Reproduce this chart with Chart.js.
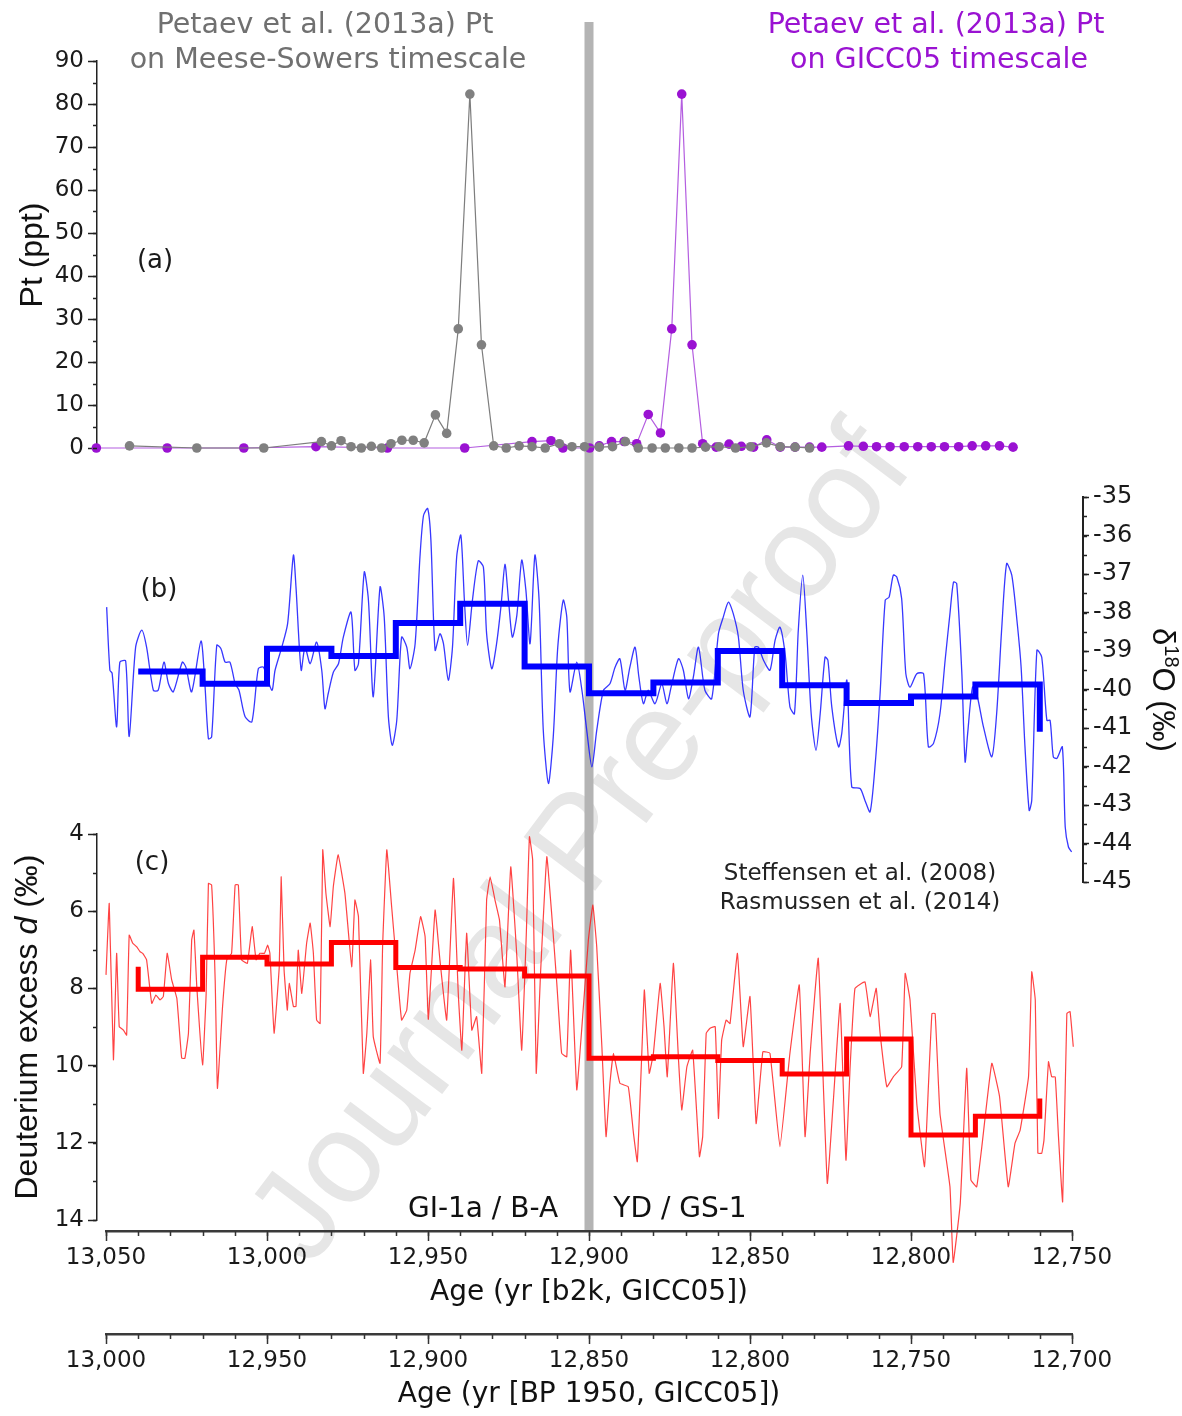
<!DOCTYPE html>
<html>
<head>
<meta charset="utf-8">
<script src="https://cdn.jsdelivr.net/npm/chart.js@4.4.0/dist/chart.umd.min.js"></script>
<style>
  html, body { margin: 0; padding: 0; background: #fff; }
  #wrap { position: relative; width: 1182px; height: 1416px; }
  #wrap canvas { position: absolute; left: 0; top: 0; }
</style>
</head>
<body>
<div id="wrap">
  <canvas id="cA" width="1182" height="1416"></canvas>
  <canvas id="cB" width="1182" height="1416"></canvas>
  <canvas id="cC" width="1182" height="1416"></canvas>
  <canvas id="cX" width="1182" height="1416"></canvas>
</div>
<script>
// (a) Pt, Petaev et al. (2013a) on the Meese-Sowers timescale  [age b2k, ppt]
const ptMsAge = [13042.7, 13021.8, 13001.0, 12983.1, 12980.0, 12977.0, 12973.9, 12970.7, 12967.6, 12964.4,
  12961.5, 12958.1, 12954.6, 12951.2, 12947.7, 12944.2, 12940.6, 12937.0, 12933.4, 12929.6,
  12925.7, 12921.7, 12917.7, 12913.6, 12909.2, 12905.3, 12901.4, 12896.8, 12892.7, 12888.7,
  12884.7, 12880.4, 12876.3, 12872.1, 12868.0, 12863.8, 12859.6, 12854.5, 12849.8, 12844.9,
  12840.6, 12836.0, 12831.5];
const ptMsVal = [0.5, 0, 0, 1.5, 0.5, 1.7, 0.3, 0, 0.4, 0,
  1.0, 1.8, 1.8, 1.2, 7.7, 3.4, 27.7, 82.3, 24.0, 0.5,
  0, 0.5, 0.3, 0, 1.0, 0.3, 0.3, 0.2, 0.3, 1.5,
  0, 0, 0, 0, 0, 0.2, 0.3, 0, 0.3, 1.2,
  0.3, 0.2, 0];

// (a) same Pt record on the GICC05 timescale
const ptGiccAge = [13053.0, 13031.0, 13007.2, 12984.8, 12962.6, 12938.6, 12917.7, 12911.8, 12908.1, 12899.8,
  12896.8, 12893.0, 12889.1, 12885.2, 12881.6, 12877.8, 12874.3, 12871.2, 12868.0, 12864.7,
  12860.5, 12856.5, 12852.7, 12848.9, 12844.8, 12840.6, 12836.0, 12831.5, 12827.7, 12819.4,
  12814.8, 12810.7, 12806.5, 12802.1, 12797.9, 12793.7, 12789.6, 12785.2, 12781.0, 12776.8,
  12772.5, 12768.3];
const ptGiccVal = [0, 0, 0, 0.3, 0, 0, 1.5, 1.7, 0, 0,
  0.5, 1.5, 1.5, 1.0, 7.8, 3.5, 27.7, 82.3, 24.0, 1.0,
  0.2, 0.9, 0.4, 0.2, 1.9, 0.2, 0.2, 0.2, 0.2, 0.5,
  0.4, 0.3, 0.3, 0.3, 0.3, 0.3, 0.3, 0.3, 0.5, 0.5,
  0.5, 0.2];

// (b) d18O, NGRIP (Steffensen et al. 2008; Rasmussen et al. 2014)
const d18oAge = [13049.8, 13048.8, 13048.1, 13046.7, 13045.7, 13043.9, 13042.8, 13040.8, 13038.9, 13037.4,
  13035.3, 13033.8, 13032.0, 13030.6, 13029.1, 13026.3, 13025.2, 13023.4, 13020.5, 13019.3,
  13018.2, 13017.2, 13015.6, 13014.3, 13013.0, 13011.5, 13009.9, 13008.7, 13006.8, 13004.7,
  13002.7, 13001.1, 12998.5, 12997.5, 12995.4, 12993.6, 12991.8, 12991.0, 12989.4, 12988.2,
  12986.6, 12984.6, 12983.0, 12982.0, 12981.0, 12979.4, 12977.8, 12976.3, 12973.9, 12972.7,
  12971.6, 12969.8, 12968.5, 12967.0, 12964.9, 12963.6, 12962.3, 12961.1, 12959.7, 12958.2,
  12956.6, 12955.6, 12954.0, 12952.5, 12951.4, 12950.1, 12949.1, 12947.8, 12946.3, 12945.2,
  12943.7, 12942.4, 12941.1, 12939.8, 12938.7, 12937.7, 12936.2, 12934.4, 12932.8, 12931.8,
  12930.2, 12928.7, 12927.3, 12926.1, 12925.0, 12923.8, 12922.4, 12920.9, 12919.6, 12918.3,
  12916.8, 12915.5, 12914.2, 12912.6, 12911.1, 12909.7, 12908.0, 12906.9, 12905.9, 12903.8,
  12902.2, 12900.7, 12899.1, 12897.6, 12895.5, 12893.5, 12891.9, 12890.4, 12888.8, 12887.3,
  12885.7, 12884.5, 12883.1, 12881.6, 12879.5, 12877.4, 12875.8, 12874.5, 12872.2, 12870.7,
  12869.1, 12867.6, 12866.0, 12864.0, 12861.9, 12859.8, 12858.3, 12856.7, 12855.2, 12853.6,
  12852.1, 12850.0, 12848.5, 12847.4, 12845.8, 12843.8, 12842.2, 12840.7, 12839.1, 12837.6,
  12836.2, 12835.0, 12833.6, 12832.4, 12831.0, 12829.5, 12828.2, 12826.7, 12825.8, 12824.6,
  12822.5, 12821.5, 12819.9, 12818.4, 12815.8, 12814.3, 12812.7, 12811.1, 12809.6, 12808.0,
  12806.8, 12805.5, 12804.4, 12802.9, 12801.6, 12800.3, 12798.2, 12796.1, 12794.6, 12793.0,
  12791.0, 12789.4, 12787.9, 12786.8, 12785.8, 12784.2, 12783.2, 12782.4, 12780.9, 12779.6,
  12777.5, 12774.9, 12773.4, 12771.8, 12770.3, 12768.7, 12767.1, 12765.8, 12764.6, 12763.3,
  12762.5, 12760.9, 12759.4, 12757.8, 12756.8, 12755.8, 12754.7, 12753.0, 12752.1, 12751.1,
  12750.1];
const d18oVal = [-37.86, -39.50, -39.58, -40.97, -39.29, -39.26, -41.22, -38.90, -38.46, -38.90,
  -40.02, -40.02, -39.29, -39.85, -40.06, -39.29, -39.42, -40.06, -38.74, -39.85,
  -41.28, -41.23, -38.85, -38.94, -39.29, -39.29, -39.85, -40.02, -40.71, -40.84,
  -39.46, -39.42, -40.02, -39.50, -38.90, -38.29, -36.51, -37.34, -39.50, -38.90,
  -39.33, -38.77, -39.50, -40.50, -40.11, -39.55, -39.33, -38.64, -37.99, -39.50,
  -39.33, -36.95, -37.68, -40.19, -37.34, -38.12, -40.71, -41.45, -40.80, -38.64,
  -38.90, -39.46, -38.81, -36.56, -35.48, -35.30, -36.12, -38.98, -38.55, -38.81,
  -39.76, -38.90, -36.56, -35.99, -37.68, -38.85, -37.68, -36.66, -36.82, -38.55,
  -39.46, -38.81, -37.81, -36.75, -37.68, -38.64, -38.07, -36.64, -37.42, -38.81,
  -36.51, -37.68, -41.06, -42.44, -41.23, -38.90, -37.68, -38.12, -40.06, -39.29,
  -40.02, -41.06, -42.01, -41.06, -40.02, -39.85, -39.42, -39.20, -40.02, -39.42,
  -38.90, -39.68, -40.37, -40.02, -40.37, -39.85, -40.37, -39.94, -39.20, -39.50,
  -40.24, -39.68, -38.90, -40.02, -40.24, -38.55, -38.12, -37.73, -38.03, -38.64,
  -40.02, -40.71, -38.90, -38.90, -39.24, -39.50, -38.72, -38.38, -39.07, -40.45,
  -40.63, -38.46, -37.03, -38.46, -40.63, -41.58, -40.63, -39.16, -39.24, -40.45,
  -41.49, -41.14, -39.76, -42.53, -42.57, -42.88, -43.18, -41.92, -40.11, -37.68,
  -37.60, -37.03, -37.08, -37.64, -39.59, -39.94, -39.59, -39.59, -41.49, -41.40,
  -40.63, -39.24, -38.03, -37.21, -37.25, -39.59, -41.88, -41.14, -39.94, -40.11,
  -40.97, -41.75, -40.63, -38.38, -36.73, -37.03, -38.20, -39.42, -41.49, -43.14,
  -42.88, -38.98, -39.16, -40.80, -40.80, -41.75, -41.79, -41.49, -43.57, -44.09,
  -44.22];

// (c) deuterium excess d
const dxsAge = [13050.0, 13049.0, 13047.7, 13046.7, 13045.9, 13044.6, 13043.6, 13042.8, 13041.7, 13040.5,
  13039.4, 13038.6, 13037.4, 13035.8, 13034.5, 13033.2, 13032.2, 13031.0, 13029.6, 13028.0,
  13026.5, 13025.5, 13024.4, 13023.4, 13022.7, 13021.8, 13020.0, 13018.9, 13018.2, 13017.2,
  13016.1, 13015.4, 13013.8, 13012.5, 13011.0, 13009.9, 13008.9, 13007.9, 13006.1, 13004.6,
  13003.4, 13002.2, 13000.8, 12999.8, 12999.1, 12997.8, 12996.2, 12995.6, 12994.7, 12993.7,
  12993.1, 12991.8, 12991.0, 12990.3, 12989.2, 12987.7, 12986.6, 12985.6, 12984.6, 12983.5,
  12982.7, 12981.7, 12980.4, 12979.4, 12977.9, 12975.8, 12973.7, 12972.7, 12971.6, 12970.1,
  12969.0, 12967.8, 12967.0, 12964.9, 12964.1, 12962.8, 12961.3, 12959.7, 12958.2, 12956.6,
  12955.6, 12954.0, 12952.3, 12950.9, 12949.9, 12947.8, 12946.3, 12944.2, 12942.1, 12940.6,
  12939.5, 12938.0, 12936.4, 12934.9, 12933.3, 12931.8, 12930.7, 12929.2, 12927.8, 12926.1,
  12924.3, 12922.4, 12920.9, 12919.5, 12918.5, 12917.5, 12916.4, 12915.0, 12913.1, 12911.6,
  12910.0, 12908.5, 12906.9, 12905.7, 12903.8, 12902.2, 12900.2, 12898.8, 12897.6, 12896.0,
  12894.7, 12893.5, 12892.4, 12890.4, 12887.8, 12886.2, 12885.0, 12883.6, 12882.8, 12881.3,
  12880.0, 12877.9, 12876.7, 12875.7, 12873.8, 12872.2, 12871.2, 12869.6, 12867.8, 12865.7,
  12864.7, 12863.6, 12862.4, 12860.8, 12859.8, 12858.8, 12857.4, 12856.2, 12853.9, 12852.1,
  12850.0, 12848.1, 12846.0, 12843.8, 12840.7, 12837.6, 12834.7, 12832.9, 12831.3, 12828.8,
  12826.0, 12824.1, 12822.0, 12820.2, 12818.9, 12817.4, 12814.3, 12812.7, 12810.8, 12809.6,
  12807.5, 12805.5, 12802.9, 12801.8, 12800.3, 12798.2, 12795.8, 12794.6, 12793.5, 12792.5,
  12791.0, 12787.9, 12786.9, 12784.7, 12782.7, 12781.4, 12779.6, 12778.0, 12774.9, 12772.5,
  12769.8, 12767.7, 12766.1, 12763.5, 12762.5, 12761.4, 12760.6, 12759.4, 12758.7, 12757.3,
  12756.3, 12755.2, 12754.2, 12752.9, 12751.6, 12750.6, 12749.6];
const dxsVal = [7.65, 5.80, 9.85, 7.09, 8.99, 9.08, 9.21, 6.62, 6.83, 6.92,
  7.05, 7.09, 7.26, 8.39, 8.17, 8.30, 8.21, 7.09, 7.78, 8.26,
  9.81, 9.81, 9.16, 6.75, 6.49, 7.96, 9.98, 8.13, 5.28, 5.32,
  7.78, 10.59, 8.47, 7.26, 7.09, 5.32, 5.32, 7.26, 7.35, 6.40,
  7.26, 7.09, 7.09, 6.88, 7.09, 9.16, 7.44, 5.11, 7.52, 8.56,
  7.87, 8.47, 8.47, 7.01, 8.13, 6.83, 6.31, 7.09, 8.82, 8.91,
  4.41, 5.54, 6.40, 5.36, 4.54, 5.54, 7.44, 5.71, 6.14, 10.20,
  9.16, 7.26, 9.25, 9.94, 6.92, 4.41, 5.88, 7.44, 8.82, 8.56,
  7.61, 7.01, 6.14, 6.66, 8.80, 5.97, 7.26, 8.82, 5.15, 8.13,
  9.60, 6.57, 9.08, 8.73, 10.20, 5.71, 5.11, 5.71, 6.23, 7.96,
  4.85, 7.18, 9.60, 6.66, 4.07, 4.67, 10.20, 7.52, 4.59, 6.06,
  7.87, 9.68, 9.77, 7.01, 10.63, 8.99, 6.75, 5.84, 6.92, 9.51,
  11.84, 10.46, 9.68, 10.46, 10.55, 11.75, 12.49, 9.68, 8.04, 10.20,
  9.68, 7.87, 8.99, 10.29, 7.35, 9.85, 11.15, 10.03, 9.60, 12.36,
  11.84, 9.16, 9.03, 8.99, 11.37, 9.34, 8.82, 8.91, 7.09, 9.51,
  8.21, 11.50, 9.64, 9.68, 12.10, 9.68, 7.91, 11.84, 9.68, 7.22,
  13.05, 10.89, 8.39, 12.45, 10.03, 8.00, 7.83, 8.73, 8.00, 9.16,
  10.55, 10.29, 10.03, 7.61, 8.30, 10.98, 12.62, 10.55, 8.65, 8.65,
  11.24, 13.14, 15.10, 13.57, 10.07, 12.96, 13.14, 12.10, 9.94, 10.80,
  13.14, 12.01, 11.67, 10.29, 7.57, 8.30, 12.27, 12.27, 11.93, 9.90,
  10.29, 10.29, 11.84, 13.53, 8.65, 8.60, 9.51];

// 20-year bin means (thick step lines)
const binEdges = [13040, 13020, 13000, 12980, 12960, 12940, 12920, 12900, 12880, 12860, 12840, 12820, 12800, 12780, 12760];
const d18oBin = [-39.53, -39.85, -38.94, -39.13, -38.27, -37.77, -39.40, -40.10, -39.82, -39.00, -39.89, -40.35, -40.18, -39.87];
const d18oBinEnd = -41.1;
const dxsBin = [8.02, 7.19, 7.37, 6.81, 7.46, 7.50, 7.68, 9.81, 9.77, 9.87, 10.22, 9.31, 11.80, 11.31];
const dxsBinStart = 7.44;
const dxsBinEnd = 10.85;

const ydOnset = 12900; // GI-1a / GS-1 boundary (grey bar)
const b2kToBp = 50;

// hidden panel x range; the visible age axis (13050..12750) sits inside it
const X_MIN = 12746.58;
const X_MAX = 13052.8;

const SANS = 'DejaVu Sans';
const ARIAL = 'Liberation Sans';
const PURPLE = '#9a12d2';
const tickFont = { family: SANS, size: 23 };

const pts = (xs, ys) => xs.map((x, i) => ({ x: x, y: ys[i] }));

function stepPts(edges, vals, first, last) {
  const out = [];
  if (first != null) out.push({ x: edges[0], y: first });
  vals.forEach((v, i) => {
    out.push({ x: edges[i], y: v });
    out.push({ x: edges[i + 1], y: v });
  });
  if (last != null) out.push({ x: edges[edges.length - 1], y: last });
  return out;
}

// short extra ticks between the labelled ones
function minorTicks(list) {
  return {
    id: 'minorTicks',
    afterDraw(chart) {
      const ctx = chart.ctx;
      list.forEach(m => {
        const s = chart.scales[m.scale];
        const n = Math.round((s.max - s.min) / m.step);
        ctx.save();
        ctx.strokeStyle = m.color || '#222';
        ctx.lineWidth = m.width || 1.5;
        ctx.beginPath();
        for (let i = 0; i <= n; i++) {
          const p = Math.round(s.getPixelForValue(s.min + i * m.step)) + 0.5;
          if (s.isHorizontal()) {
            ctx.moveTo(p, s.top); ctx.lineTo(p, s.top + m.len);
          } else if (s.position === 'left') {
            ctx.moveTo(s.right, p); ctx.lineTo(s.right - m.len, p);
          } else {
            ctx.moveTo(s.left, p); ctx.lineTo(s.left + m.len, p);
          }
        }
        ctx.stroke();
        ctx.restore();
      });
    }
  };
}

// watermark + grey boundary bar behind everything
const backdrop = {
  id: 'backdrop',
  beforeDraw(chart) {
    const ctx = chart.ctx;
    ctx.save();
    ctx.translate(584, 846);
    ctx.rotate(-53 * Math.PI / 180);
    ctx.font = '130px "' + ARIAL + '"';
    ctx.fillStyle = '#e6e6e6';
    ctx.textAlign = 'center';
    ctx.textBaseline = 'alphabetic';
    ctx.fillText('Journal Pre-proof', 0, 36);
    ctx.restore();

    const x = chart.scales.x.getPixelForValue(ydOnset);
    ctx.save();
    ctx.fillStyle = '#b4b4b4';
    ctx.fillRect(x - 4.5, 22, 9, 1231 - 22);
    ctx.restore();
  }
};

function drawRich(ctx, parts, cx, cy, rot, color) {
  ctx.save();
  ctx.translate(cx, cy);
  ctx.rotate(rot);
  ctx.fillStyle = color;
  ctx.textAlign = 'left';
  ctx.textBaseline = 'middle';
  let total = 0;
  parts.forEach(p => { ctx.font = p.font; p.w = ctx.measureText(p.t).width; total += p.w; });
  let x = -total / 2;
  parts.forEach(p => { ctx.font = p.font; ctx.fillText(p.t, x, p.dy || 0); x += p.w; });
  ctx.restore();
}

const notes = {
  id: 'notes',
  afterDraw(chart) {
    const ctx = chart.ctx;
    const F = (px, fam) => px + 'px "' + (fam || SANS) + '"';
    const txt = (s, x, y, font, color) => {
      ctx.save();
      ctx.font = font; ctx.fillStyle = color;
      ctx.textAlign = 'center'; ctx.textBaseline = 'alphabetic';
      ctx.fillText(s, x, y);
      ctx.restore();
    };
    txt('Petaev et al. (2013a) Pt', 325, 33, F(28.5), '#707070');
    txt('on Meese-Sowers timescale', 328, 68, F(28.5), '#707070');
    txt('Petaev et al. (2013a) Pt', 936, 33, F(28.5), PURPLE);
    txt('on GICC05 timescale', 939, 68, F(28.5), PURPLE);
    txt('(a)', 155, 268, F(26), '#1a1a1a');
    txt('(b)', 159, 597, F(26), '#1a1a1a');
    txt('(c)', 152, 870, F(26), '#1a1a1a');
    txt('Steffensen et al. (2008)', 860, 880, F(23), '#222');
    txt('Rasmussen et al. (2014)', 860, 909, F(23), '#222');
    txt('GI-1a / B-A', 483, 1217, F(28), '#111');
    txt('YD / GS-1', 680, 1217, F(28), '#111');

    drawRich(ctx, [{ t: 'Pt (ppt)', font: F(32, ARIAL) }], 33, 255, -Math.PI / 2, '#111');
    drawRich(ctx, [
      { t: 'Deuterium excess ', font: F(32, ARIAL) },
      { t: 'd', font: 'italic ' + F(32, ARIAL) },
      { t: ' (\u2030)', font: F(32, ARIAL) }
    ], 28, 1027, -Math.PI / 2, '#111');
    drawRich(ctx, [
      { t: '\u03b4', font: F(31, ARIAL) },
      { t: '18', font: F(20, ARIAL), dy: -9 },
      { t: 'O (\u2030)', font: F(31, ARIAL) }
    ], 1162, 690, Math.PI / 2, '#111');
  }
};

const base = {
  responsive: false,
  animation: false,
  devicePixelRatio: 1,
  events: []
};
const quiet = { legend: { display: false }, tooltip: { enabled: false } };
const hiddenX = { type: 'linear', min: X_MIN, max: X_MAX, reverse: true, display: false };

function yAxis(o) {
  return Object.assign({
    type: 'linear',
    ticks: { font: tickFont, color: '#1a1a1a', padding: 4, autoSkip: false },
    grid: { drawOnChartArea: false, tickLength: 9, tickWidth: 1.5, tickColor: '#222' },
    border: { color: '#222', width: 1.5 }
  }, o);
}

// (a) Pt
new Chart(document.getElementById('cA'), {
  type: 'line',
  data: {
    datasets: [
      {
        data: pts(ptMsAge, ptMsVal),
        borderColor: '#7d7d7d', borderWidth: 1.2,
        pointRadius: 4.8, pointBackgroundColor: '#808080', pointBorderWidth: 0,
        clip: false
      },
      {
        data: pts(ptGiccAge, ptGiccVal),
        borderColor: '#b45ee0', borderWidth: 1.2,
        pointRadius: 4.8, pointBackgroundColor: PURPLE, pointBorderWidth: 0,
        clip: false
      }
    ]
  },
  options: Object.assign({}, base, {
    layout: { padding: { left: 0, right: 99, top: 61, bottom: 968 } },
    plugins: quiet,
    scales: {
      x: hiddenX,
      y: yAxis({
        position: 'left', min: 0, max: 90,
        afterFit: s => { s.width = 97; },
        ticks: { stepSize: 10, font: tickFont, color: '#1a1a1a', padding: 4 }
      })
    }
  }),
  plugins: [backdrop, minorTicks([{ scale: 'y', step: 5, len: 4 }])]
});

// (b) d18O
new Chart(document.getElementById('cB'), {
  type: 'line',
  data: {
    datasets: [
      {
        data: stepPts(binEdges, d18oBin, null, d18oBinEnd),
        borderColor: '#0000ff', borderWidth: 6, pointRadius: 0,
        borderJoinStyle: 'miter', borderCapStyle: 'butt', tension: 0
      },
      {
        data: pts(d18oAge, d18oVal),
        borderColor: 'rgba(20,20,255,0.85)', borderWidth: 1.3, pointRadius: 0,
        tension: 0.25, clip: false
      }
    ]
  },
  options: Object.assign({}, base, {
    layout: { padding: { left: 97, right: 0, top: 497, bottom: 534 } },
    plugins: quiet,
    scales: {
      x: hiddenX,
      y: yAxis({
        position: 'right', min: -45, max: -35,
        afterFit: s => { s.width = 99; },
        ticks: { stepSize: 1, font: { family: SANS, size: 24 }, color: '#1a1a1a', padding: 4 },
        grid: { drawOnChartArea: false, tickLength: 6, tickWidth: 1.5, tickColor: '#222' },
        border: { color: '#222', width: 2 }
      })
    }
  }),
  plugins: [minorTicks([{ scale: 'y', step: 0.5, len: 4 }])]
});

// (c) deuterium excess
new Chart(document.getElementById('cC'), {
  type: 'line',
  data: {
    datasets: [
      {
        data: stepPts(binEdges, dxsBin, dxsBinStart, dxsBinEnd),
        borderColor: '#ff0000', borderWidth: 5, pointRadius: 0,
        borderJoinStyle: 'miter', borderCapStyle: 'butt', tension: 0
      },
      {
        data: pts(dxsAge, dxsVal),
        borderColor: 'rgba(255,20,20,0.8)', borderWidth: 1.2, pointRadius: 0,
        tension: 0.1, clip: false
      }
    ]
  },
  options: Object.assign({}, base, {
    layout: { padding: { left: 0, right: 99, top: 834, bottom: 196 } },
    plugins: quiet,
    scales: {
      x: hiddenX,
      y: yAxis({
        position: 'left', min: 4, max: 14, reverse: true,
        afterFit: s => { s.width = 97; },
        ticks: { stepSize: 2, font: tickFont, color: '#1a1a1a', padding: 4 }
      })
    }
  }),
  plugins: [minorTicks([{ scale: 'y', step: 1, len: 4 }])]
});

// shared age axes + annotations
const ageFmt = v => Number(v).toLocaleString('en-US');
function ageAxis(min, max, title, height, padBottom, weight) {
  return {
    type: 'linear', position: 'bottom', min: min, max: max, reverse: true, weight: weight,
    afterFit: s => { s.height = height; },
    ticks: { stepSize: 50, callback: ageFmt, font: tickFont, color: '#1a1a1a', padding: 3, autoSkip: false, maxRotation: 0 },
    grid: { drawOnChartArea: false, tickLength: 10, tickWidth: 1.5, tickColor: '#333' },
    border: { color: '#3a3a3a', width: 2.5 },
    title: { display: true, text: title, font: { family: SANS, size: 28 }, color: '#111', padding: { top: 0, bottom: padBottom } }
  };
}

new Chart(document.getElementById('cX'), {
  type: 'line',
  data: { datasets: [] },
  options: Object.assign({}, base, {
    layout: { padding: { left: 106, right: 110, top: 1100, bottom: 0 } },
    plugins: quiet,
    scales: {
      y: { display: false },
      x: ageAxis(12750, 13050, 'Age (yr [b2k, GICC05])', 103, 24, 0),
      x2: ageAxis(12750 - b2kToBp, 13050 - b2kToBp, 'Age (yr [BP 1950, GICC05])', 82, 4, 1)
    }
  }),
  plugins: [notes, minorTicks([
    { scale: 'x', step: 10, len: 5, color: '#333' },
    { scale: 'x2', step: 10, len: 5, color: '#333' }
  ])]
});
</script>
</body>
</html>
